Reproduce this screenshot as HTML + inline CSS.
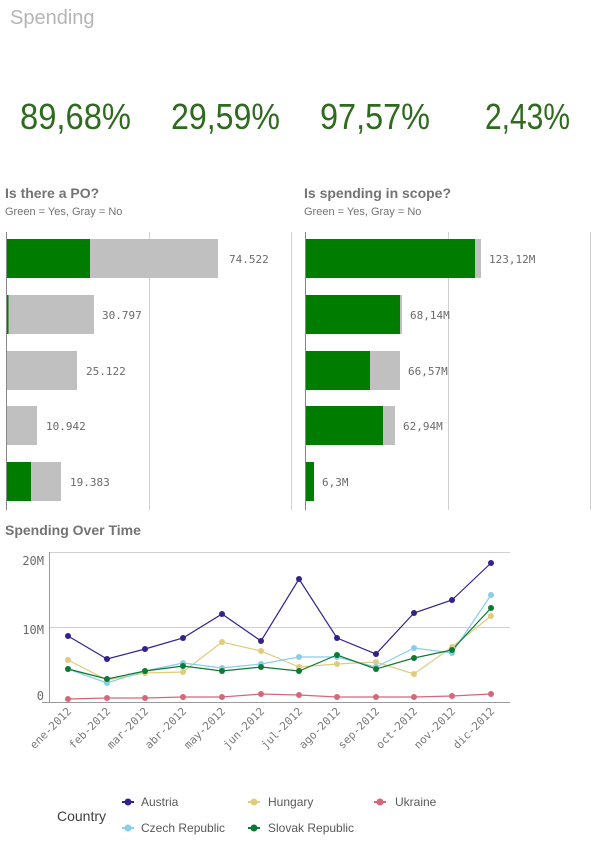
<!DOCTYPE html>
<html><head><meta charset="utf-8"><style>
html,body{margin:0;padding:0;background:#fff;width:605px;height:856px;overflow:hidden}
svg{display:block;font-family:"Liberation Sans",sans-serif}
.m{font-family:"DejaVu Sans Mono","Liberation Mono",monospace}
</style></head><body>
<svg width="605" height="856" viewBox="0 0 605 856">
<text x="10" y="24" font-size="20" fill="#b5b5b5">Spending</text>
<g font-size="36" fill="#2e6b1e">
<text x="20" y="129" textLength="111" lengthAdjust="spacingAndGlyphs">89,68%</text>
<text x="171" y="129" textLength="109" lengthAdjust="spacingAndGlyphs">29,59%</text>
<text x="320" y="129" textLength="110" lengthAdjust="spacingAndGlyphs">97,57%</text>
<text x="485" y="129" textLength="85" lengthAdjust="spacingAndGlyphs">2,43%</text>
</g>
<g fill="#737373">
<text x="5" y="198" font-size="14" font-weight="bold">Is there a PO?</text>
<text x="5" y="215" font-size="11">Green = Yes, Gray = No</text>
<text x="304" y="198" font-size="14" font-weight="bold">Is spending in scope?</text>
<text x="304" y="215" font-size="11">Green = Yes, Gray = No</text>
<text x="5" y="535" font-size="14" font-weight="bold">Spending Over Time</text>
</g>
<g stroke="#d0d0d0" stroke-width="1">
<line x1="149.5" y1="232" x2="149.5" y2="510"/><line x1="291.5" y1="232" x2="291.5" y2="510"/>
<line x1="448.5" y1="232" x2="448.5" y2="510"/><line x1="590.5" y1="232" x2="590.5" y2="510"/>
</g>
<g stroke="#888"><line x1="6.5" y1="232" x2="6.5" y2="510"/><line x1="305.5" y1="232" x2="305.5" y2="510"/></g>
<g fill="#c0c0c0">
<rect x="7" y="239" width="211" height="39"/><rect x="7" y="295" width="87" height="39"/>
<rect x="7" y="351" width="70" height="39"/><rect x="7" y="406" width="30" height="39"/>
<rect x="7" y="462" width="54" height="39"/>
<rect x="306" y="239" width="175" height="39"/><rect x="306" y="295" width="96" height="39"/>
<rect x="306" y="351" width="94" height="39"/><rect x="306" y="406" width="89" height="39"/>
</g>
<g fill="#007c00">
<rect x="7" y="239" width="83" height="39"/><rect x="7" y="295" width="1.5" height="39"/>
<rect x="7" y="462" width="24" height="39"/>
<rect x="306" y="239" width="169" height="39"/><rect x="306" y="295" width="94" height="39"/>
<rect x="306" y="351" width="64" height="39"/><rect x="306" y="406" width="77" height="39"/>
<rect x="306" y="462" width="8" height="39"/>
</g>
<g class="m" font-size="11" fill="#6a6a6a">
<text x="229" y="263">74.522</text><text x="102" y="319">30.797</text>
<text x="86" y="375">25.122</text><text x="46" y="430">10.942</text><text x="70" y="486">19.383</text>
<text x="489" y="263">123,12M</text><text x="410" y="319">68,14M</text>
<text x="408" y="375">66,57M</text><text x="403" y="430">62,94M</text><text x="322" y="486">6,3M</text>
</g>
<g stroke="#d0d0d0"><line x1="49" y1="552.5" x2="510" y2="552.5"/><line x1="49" y1="627.5" x2="510" y2="627.5"/></g>
<g stroke="#999"><line x1="49.5" y1="552" x2="49.5" y2="702"/><line x1="42" y1="702.5" x2="510" y2="702.5"/></g>
<g class="m" font-size="12" fill="#6a6a6a" text-anchor="end">
<text x="44" y="565">20M</text><text x="44" y="634">10M</text><text x="44" y="700">0</text>
</g>
<g class="m" font-size="11" fill="#7a7a7a" text-anchor="end">
<text transform="translate(72,712) rotate(-45)">ene-2012</text>
<text transform="translate(111,712) rotate(-45)">feb-2012</text>
<text transform="translate(149,712) rotate(-45)">mar-2012</text>
<text transform="translate(187,712) rotate(-45)">abr-2012</text>
<text transform="translate(226,712) rotate(-45)">may-2012</text>
<text transform="translate(265,712) rotate(-45)">jun-2012</text>
<text transform="translate(303,712) rotate(-45)">jul-2012</text>
<text transform="translate(341,712) rotate(-45)">ago-2012</text>
<text transform="translate(380,712) rotate(-45)">sep-2012</text>
<text transform="translate(418,712) rotate(-45)">oct-2012</text>
<text transform="translate(456,712) rotate(-45)">nov-2012</text>
<text transform="translate(495,712) rotate(-45)">dic-2012</text>
</g>
<g fill="none" stroke-width="1.2">
<polyline stroke="#d5677b" points="68,699 107,698 145,698 183,697 222,697 261,694 299,695 337,697 376,697 414,697 452,696 491,694"/>
<polyline stroke="#e1cb7c" points="68,660 107,680 145,673 183,672 222,642 261,651 299,667 337,664 376,662 414,674 452,647 491,616"/>
<polyline stroke="#87ceeb" points="68,669 107,683 145,671 183,663 222,668 261,664 299,657 337,657 376,667 414,648 452,653 491,595"/>
<polyline stroke="#0c7a32" points="68,669 107,679 145,671 183,666 222,671 261,667 299,671 337,655 376,669 414,658 452,650 491,608"/>
<polyline stroke="#33228c" points="68,636 107,659 145,649 183,638 222,614 261,641 299,579 337,638 376,654 414,613 452,600 491,563"/>
</g>
<g fill="#d5677b"><circle cx="68" cy="699" r="3"/><circle cx="107" cy="698" r="3"/><circle cx="145" cy="698" r="3"/><circle cx="183" cy="697" r="3"/><circle cx="222" cy="697" r="3"/><circle cx="261" cy="694" r="3"/><circle cx="299" cy="695" r="3"/><circle cx="337" cy="697" r="3"/><circle cx="376" cy="697" r="3"/><circle cx="414" cy="697" r="3"/><circle cx="452" cy="696" r="3"/><circle cx="491" cy="694" r="3"/></g>
<g fill="#e1cb7c"><circle cx="68" cy="660" r="3"/><circle cx="107" cy="680" r="3"/><circle cx="145" cy="673" r="3"/><circle cx="183" cy="672" r="3"/><circle cx="222" cy="642" r="3"/><circle cx="261" cy="651" r="3"/><circle cx="299" cy="667" r="3"/><circle cx="337" cy="664" r="3"/><circle cx="376" cy="662" r="3"/><circle cx="414" cy="674" r="3"/><circle cx="452" cy="647" r="3"/><circle cx="491" cy="616" r="3"/></g>
<g fill="#87ceeb"><circle cx="68" cy="669" r="3"/><circle cx="107" cy="683" r="3"/><circle cx="145" cy="671" r="3"/><circle cx="183" cy="663" r="3"/><circle cx="222" cy="668" r="3"/><circle cx="261" cy="664" r="3"/><circle cx="299" cy="657" r="3"/><circle cx="337" cy="657" r="3"/><circle cx="376" cy="667" r="3"/><circle cx="414" cy="648" r="3"/><circle cx="452" cy="653" r="3"/><circle cx="491" cy="595" r="3"/></g>
<g fill="#0c7a32"><circle cx="68" cy="669" r="3"/><circle cx="107" cy="679" r="3"/><circle cx="145" cy="671" r="3"/><circle cx="183" cy="666" r="3"/><circle cx="222" cy="671" r="3"/><circle cx="261" cy="667" r="3"/><circle cx="299" cy="671" r="3"/><circle cx="337" cy="655" r="3"/><circle cx="376" cy="669" r="3"/><circle cx="414" cy="658" r="3"/><circle cx="452" cy="650" r="3"/><circle cx="491" cy="608" r="3"/></g>
<g fill="#33228c"><circle cx="68" cy="636" r="3"/><circle cx="107" cy="659" r="3"/><circle cx="145" cy="649" r="3"/><circle cx="183" cy="638" r="3"/><circle cx="222" cy="614" r="3"/><circle cx="261" cy="641" r="3"/><circle cx="299" cy="579" r="3"/><circle cx="337" cy="638" r="3"/><circle cx="376" cy="654" r="3"/><circle cx="414" cy="613" r="3"/><circle cx="452" cy="600" r="3"/><circle cx="491" cy="563" r="3"/></g>
<text x="57" y="821" font-size="14" fill="#404040">Country</text>
<g font-size="12" fill="#595959">
<line x1="122" y1="802" x2="134" y2="802" stroke="#33228c" stroke-width="2"/><circle cx="128" cy="802" r="3.5" fill="#33228c"/><text x="141" y="806">Austria</text>
<line x1="248" y1="802" x2="260" y2="802" stroke="#e1cb7c" stroke-width="2"/><circle cx="254" cy="802" r="3.5" fill="#e1cb7c"/><text x="268" y="806">Hungary</text>
<line x1="374" y1="802" x2="386" y2="802" stroke="#d5677b" stroke-width="2"/><circle cx="380" cy="802" r="3.5" fill="#d5677b"/><text x="395" y="806">Ukraine</text>
<line x1="122" y1="828" x2="134" y2="828" stroke="#87ceeb" stroke-width="2"/><circle cx="128" cy="828" r="3.5" fill="#87ceeb"/><text x="141" y="832">Czech Republic</text>
<line x1="248" y1="828" x2="260" y2="828" stroke="#0c7a32" stroke-width="2"/><circle cx="254" cy="828" r="3.5" fill="#0c7a32"/><text x="268" y="832">Slovak Republic</text>
</g>
</svg>
</body></html>
